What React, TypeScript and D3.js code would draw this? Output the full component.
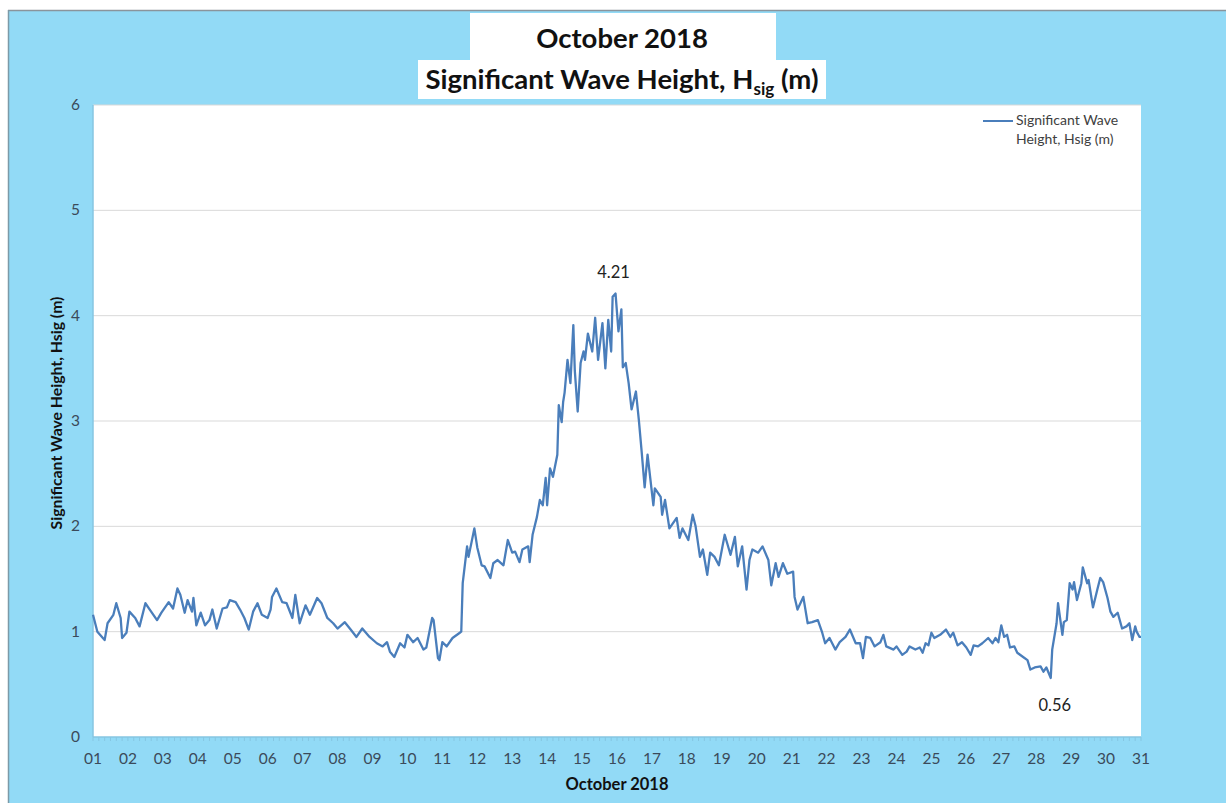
import React from "react";
import * as d3 from "d3";

// hours since 01 Oct 00:00
const hours = [
  0, 3, 8, 10, 14, 16, 19, 20, 23, 25, 29, 32, 36, 39, 44, 47, 52, 55, 58, 60,
  63, 65, 68, 69, 71, 74, 77, 80, 82, 85, 89, 92, 94, 98, 101, 104, 107, 110, 113, 116,
  120, 122, 123, 126, 130, 133, 137, 139, 142, 146, 149, 154, 157, 161, 165, 168, 173, 177, 181, 185,
  190, 195, 199, 202, 204, 207, 211, 214, 216, 220, 223, 227, 229, 233, 234, 237, 238, 240, 243, 247,
  252, 253, 254, 257, 258, 262, 264, 267, 269, 273, 275, 278, 282, 285, 288, 290, 293, 295, 299, 300,
  302, 305, 307, 309, 311, 312, 314, 316, 319, 320, 322, 323, 324, 326, 328, 330, 331, 333, 335, 337,
  338, 340, 343, 345, 347, 350, 352, 354, 356, 357, 359, 361, 363, 364, 366, 368, 370, 373, 375, 377,
  379, 381, 385, 386, 390, 391, 393, 396, 401, 403, 405, 409, 412, 414, 417, 419, 422, 424, 427, 430,
  434, 438, 441, 443, 446, 449, 451, 453, 457, 460, 464, 466, 469, 471, 474, 477, 481, 482, 484, 488,
  491, 494, 498, 501, 503, 506, 510, 513, 517, 520, 524, 527, 529, 531, 534, 537, 541, 543, 545, 550,
  552, 556, 559, 561, 565, 568, 570, 572, 574, 576, 578, 582, 586, 589, 591, 594, 597, 600, 603, 605,
  608, 611, 615, 618, 620, 622, 624, 626, 628, 630, 633, 635, 639, 642, 644, 647, 651, 653, 655, 658,
  659, 662, 663, 666, 667, 669, 671, 673, 674, 676, 679, 680, 683, 684, 687, 690, 692, 694, 697, 699,
  701, 704, 707, 710, 712, 714, 716, 717, 719, 720,
];

const hsig = [
  1.16, 1.0, 0.92, 1.08, 1.16, 1.27, 1.13, 0.94, 0.99, 1.19, 1.13, 1.05, 1.27, 1.21, 1.11, 1.18, 1.28, 1.22, 1.41, 1.35,
  1.18, 1.3, 1.19, 1.32, 1.06, 1.18, 1.06, 1.11, 1.21, 1.03, 1.22, 1.23, 1.3, 1.28, 1.21, 1.13, 1.02, 1.19, 1.27, 1.16,
  1.13, 1.21, 1.33, 1.41, 1.28, 1.27, 1.13, 1.35, 1.08, 1.25, 1.16, 1.32, 1.27, 1.13, 1.08, 1.03, 1.09, 1.02, 0.95, 1.03,
  0.95, 0.89, 0.86, 0.9, 0.81, 0.76, 0.89, 0.85, 0.97, 0.9, 0.94, 0.83, 0.85, 1.13, 1.11, 0.75, 0.73, 0.9, 0.86, 0.94,
  0.99, 1.0, 1.46, 1.81, 1.71, 1.98, 1.8, 1.63, 1.62, 1.51, 1.65, 1.68, 1.63, 1.87, 1.75, 1.76, 1.66, 1.78, 1.81, 1.66,
  1.92, 2.09, 2.25, 2.2, 2.46, 2.2, 2.55, 2.47, 2.68, 3.15, 2.99, 3.18, 3.27, 3.58, 3.36, 3.91, 3.48, 3.09, 3.55, 3.66,
  3.58, 3.83, 3.66, 3.98, 3.58, 3.93, 3.5, 3.96, 3.66, 4.18, 4.21, 3.85, 4.06, 3.51, 3.55, 3.36, 3.11, 3.28, 3.01, 2.7,
  2.37, 2.68, 2.2, 2.36, 2.28, 2.11, 2.25, 1.98, 2.08, 1.89, 1.98, 1.87, 2.11, 2.0, 1.71, 1.78, 1.54, 1.75, 1.71, 1.63,
  1.92, 1.73, 1.9, 1.62, 1.81, 1.4, 1.68, 1.78, 1.75, 1.81, 1.68, 1.44, 1.65, 1.52, 1.65, 1.55, 1.57, 1.33, 1.21, 1.33,
  1.08, 1.09, 1.11, 0.99, 0.89, 0.94, 0.83, 0.9, 0.95, 1.02, 0.89, 0.89, 0.75, 0.95, 0.94, 0.86, 0.9, 0.97, 0.86, 0.83,
  0.86, 0.78, 0.81, 0.86, 0.83, 0.85, 0.8, 0.89, 0.87, 0.99, 0.94, 0.97, 1.02, 0.95, 0.99, 0.87, 0.9, 0.85, 0.78, 0.87,
  0.86, 0.89, 0.94, 0.89, 0.94, 0.9, 1.06, 0.95, 0.97, 0.85, 0.86, 0.8, 0.76, 0.73, 0.64, 0.66, 0.67, 0.62, 0.66, 0.56,
  0.83, 1.08, 1.27, 0.97, 1.09, 1.11, 1.46, 1.4, 1.47, 1.3, 1.46, 1.61, 1.46, 1.49, 1.23, 1.4, 1.51, 1.47, 1.32, 1.19,
  1.14, 1.18, 1.03, 1.05, 1.08, 0.92, 1.05, 1.0, 0.95, 0.95,
];

const dayLabels = d3.range(1, 32).map((d) => String(d).padStart(2, "0"));
const yTicks = [0, 1, 2, 3, 4, 5, 6];
const maxLabel = "4.21";
const minLabel = "0.56";

const W = 1226, H = 803;
const left = 93, right = 1141, top = 105, bottom = 737;
const font = "Lato, 'Open Sans', sans-serif";
const tickColor = "#3b4a5a";

export default function App() {
  const x = d3.scaleLinear().domain([0, 720]).range([left, right]);
  const y = d3.scaleLinear().domain([0, 6]).range([bottom, top]);
  const pts = hours.map((h, i) => [h, hsig[i]] as [number, number]);
  const line = d3.line<[number, number]>().x((d) => x(d[0])).y((d) => y(d[1]));

  const maxI = hsig.indexOf(d3.max(hsig)!);
  const minI = hsig.indexOf(d3.min(hsig)!);
  const minor = d3.range(0, 721, 4);

  return (
    <div style={{ position: "absolute", left: 0, top: 0 }}>
      <svg width={W} height={H} style={{ display: "block" }}>
        <rect x={0} y={0} width={W} height={H} fill="#ffffff" />
        <rect x={8} y={10} width={W - 8} height={H - 10} fill="#92daf6" />
        <line x1={8} y1={10.5} x2={W} y2={10.5} stroke="#8a949c" strokeWidth={1.5} />
        <line x1={8.5} y1={10} x2={8.5} y2={H} stroke="#7c9aa8" strokeWidth={1.5} />

        {/* title boxes */}
        <rect x={470} y={13} width={306} height={50} fill="#ffffff" />
        <rect x={418} y={60} width={408} height={39} fill="#ffffff" />
        <text x={622} y={48} textAnchor="middle" fontFamily={font} fontWeight="bold" fontSize={27.5} fill="#111">
          October 2018
        </text>
        <text x={622} y={89} textAnchor="middle" fontFamily={font} fontWeight="bold" fontSize={27.5} fill="#111">
          Significant Wave Height, H
          <tspan fontSize={17} dy={6}>sig</tspan>
          <tspan dy={-6}> (m)</tspan>
        </text>

        {/* plot area */}
        <rect x={left} y={top} width={right - left} height={bottom - top} fill="#ffffff" />
        {yTicks.slice(1).map((t) => (
          <line key={t} x1={left} x2={right} y1={y(t)} y2={y(t)} stroke="#d9d9d9" strokeWidth={1} />
        ))}
        <line x1={left} x2={left} y1={top} y2={bottom} stroke="#86c6e2" strokeWidth={1.5} />
        <line x1={left} x2={right} y1={bottom} y2={bottom} stroke="#86c6e2" strokeWidth={1.5} />
        {minor.map((m) => (
          <line key={m} x1={x(m)} x2={x(m)} y1={bottom} y2={bottom + 4} stroke="#86c6e2" strokeWidth={1} />
        ))}

        {yTicks.map((t) => (
          <text key={t} x={80} y={y(t) + 5} textAnchor="end" fontFamily={font} fontSize={15.5} fill={tickColor}>
            {t}
          </text>
        ))}
        {dayLabels.map((lab, i) => (
          <text key={lab} x={x(i * 24)} y={764} textAnchor="middle" fontFamily={font} fontSize={15.5} fill={tickColor}>
            {lab}
          </text>
        ))}

        <text x={617} y={790} textAnchor="middle" fontFamily={font} fontWeight="bold" fontSize={16.5} fill="#111">
          October 2018
        </text>
        <text
          transform={`translate(62, 413) rotate(-90)`}
          textAnchor="middle"
          fontFamily={font}
          fontWeight="bold"
          fontSize={15.8}
          fill="#111"
        >
          Significant Wave Height, Hsig (m)
        </text>

        <path d={line(pts)!} fill="none" stroke="#4a7ebb" strokeWidth={2.3} strokeLinejoin="round" />

        <text x={x(hours[maxI]) - 2} y={y(hsig[maxI]) - 16} textAnchor="middle" fontFamily={font} fontSize={16.5} fill="#222">
          {maxLabel}
        </text>
        <text x={x(hours[minI]) + 4} y={y(hsig[minI]) + 33} textAnchor="middle" fontFamily={font} fontSize={16.5} fill="#222">
          {minLabel}
        </text>

        {/* legend */}
        <line x1={983} x2={1013} y1={121} y2={121} stroke="#4a7ebb" strokeWidth={2} />
        <text x={1016} y={125} fontFamily={font} fontSize={14} fill="#404040">
          Significant Wave
        </text>
        <text x={1016} y={144} fontFamily={font} fontSize={14} fill="#404040">
          Height, Hsig (m)
        </text>
      </svg>
    </div>
  );
}
